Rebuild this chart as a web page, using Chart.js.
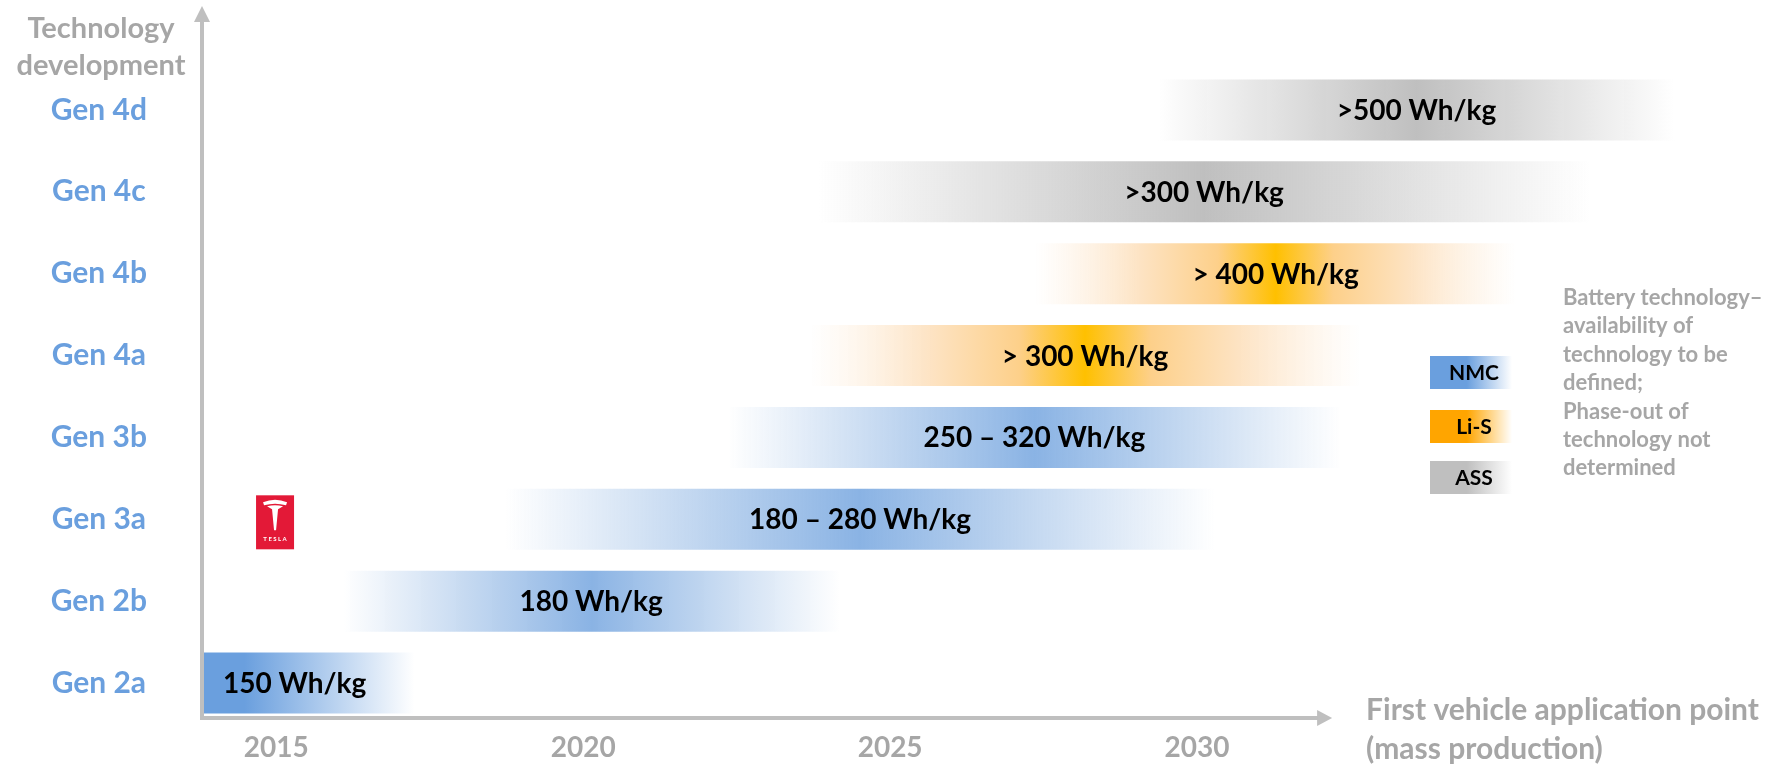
<!DOCTYPE html>
<html>
<head>
<meta charset="utf-8">
<script src="https://cdn.jsdelivr.net/npm/chart.js@4.4.1/dist/chart.umd.min.js"></script>
<style>
  html, body { margin: 0; padding: 0; background: #fff; }
  #wrap { width: 1779px; height: 764px; }
</style>
</head>
<body>
<div id="wrap"><canvas id="roadmap"></canvas></div>
<script>
// generations, top to bottom
const gens = ['Gen 4d', 'Gen 4c', 'Gen 4b', 'Gen 4a', 'Gen 3b', 'Gen 3a', 'Gen 2b', 'Gen 2a'];
// first vehicle application window (years)
const starts = [2029.35, 2023.83, 2027.36, 2023.70, 2022.36, 2018.73, 2016.09, 2013.79];
const ends   = [2037.8, 2036.4, 2035.2, 2032.65, 2032.34, 2030.29, 2024.17, 2017.25];
const densities = ['>500 Wh/kg', '>300 Wh/kg', '> 400 Wh/kg', '> 300 Wh/kg', '250 – 320 Wh/kg', '180 – 280 Wh/kg', '180 Wh/kg', '150 Wh/kg'];
const chems = ['ASS', 'ASS', 'Li-S', 'Li-S', 'NMC', 'NMC', 'NMC', 'NMC'];
const yearTicks = [2015, 2020, 2025, 2030];
const xMin = 2013.79, xMax = 2039.48, axisEnd = 2032.2;
const legendItems = ['NMC', 'Li-S', 'ASS'];
const noteLines = ['Battery technology–', 'availability of', 'technology to be', 'defined;', 'Phase-out of', 'technology not', 'determined'];

const GREY = '#a6a6a6';
const AXIS = '#bfbfbf';
const FONT = 'Lato, "Open Sans", sans-serif';

function barFill(ctx, chem, x0, x1, solidLeft) {
  const g = ctx.createLinearGradient(x0, 0, x1, 0);
  if (solidLeft) {
    g.addColorStop(0, '#6a9fde');
    g.addColorStop(0.2, '#6a9fde');
    g.addColorStop(1, 'rgba(255,255,255,1)');
    return g;
  }
  if (chem === 'NMC') {
    g.addColorStop(0, 'rgba(141,180,226,0)');
    g.addColorStop(0.5, '#8ab3e4');
    g.addColorStop(1, 'rgba(141,180,226,0)');
  } else if (chem === 'Li-S') {
    g.addColorStop(0, 'rgba(253,235,215,0)');
    g.addColorStop(0.22, '#fde3c3');
    g.addColorStop(0.38, '#fdd08a');
    g.addColorStop(0.5, '#ffc000');
    g.addColorStop(0.62, '#fdd08a');
    g.addColorStop(0.78, '#fde3c3');
    g.addColorStop(1, 'rgba(253,235,215,0)');
  } else {
    g.addColorStop(0, 'rgba(191,191,191,0)');
    g.addColorStop(0.5, '#bfbfbf');
    g.addColorStop(1, 'rgba(191,191,191,0)');
  }
  return g;
}

// axes with arrows, titles, bar labels, tesla logo, legend, note
const decor = {
  id: 'decor',
  afterDatasetsDraw(chart) {
    const { ctx, chartArea, scales: { x, y } } = chart;
    ctx.save();

    // bar labels
    ctx.font = 'bold 28px ' + FONT;
    ctx.fillStyle = '#000';
    ctx.textBaseline = 'middle';
    gens.forEach((g, i) => {
      const cy = y.getPixelForValue(i) + 1;
      const x0 = x.getPixelForValue(starts[i]);
      const x1 = x.getPixelForValue(ends[i]);
      if (i === gens.length - 1) {
        ctx.textAlign = 'left';
        ctx.fillText(densities[i], x0 + 21, cy);
      } else {
        ctx.textAlign = 'center';
        ctx.fillText(densities[i], (x0 + x1) / 2, cy);
      }
    });

    // axes
    const ax = chartArea.left;
    const ay = chartArea.bottom - 6;
    const tipX = x.getPixelForValue(axisEnd);
    ctx.strokeStyle = AXIS;
    ctx.fillStyle = AXIS;
    ctx.lineWidth = 4;
    ctx.beginPath();
    ctx.moveTo(ax, ay + 2);
    ctx.lineTo(ax, 20);
    ctx.moveTo(ax - 2, ay);
    ctx.lineTo(tipX - 12, ay);
    ctx.stroke();
    ctx.beginPath();
    ctx.moveTo(ax, 6); ctx.lineTo(ax - 8, 22); ctx.lineTo(ax + 8, 22); ctx.closePath();
    ctx.moveTo(tipX, ay); ctx.lineTo(tipX - 15, ay - 8); ctx.lineTo(tipX - 15, ay + 8); ctx.closePath();
    ctx.fill();

    // axis titles
    ctx.fillStyle = GREY;
    ctx.font = 'bold 29px ' + FONT;
    ctx.textAlign = 'center';
    ctx.fillText('Technology', 101, 29);
    ctx.fillText('development', 101, 66);
    ctx.font = 'bold 30px ' + FONT;
    ctx.textAlign = 'left';
    ctx.fillText('First vehicle application point', tipX + 34, ay - 8);
    ctx.fillText('(mass production)', tipX + 34, ay + 31);

    // tesla logo next to Gen 3a
    const tx = x.getPixelForValue(2014.98), ty = y.getPixelForValue(5) + 3;
    ctx.fillStyle = '#e31937';
    ctx.fillRect(tx - 19, ty - 27, 38, 54);
    ctx.fillStyle = '#fff';
    ctx.beginPath();
    ctx.moveTo(tx - 12, ty - 20);
    ctx.quadraticCurveTo(tx, ty - 25, tx + 12, ty - 20);
    ctx.lineTo(tx + 11, ty - 17);
    ctx.quadraticCurveTo(tx, ty - 20, tx - 11, ty - 17);
    ctx.closePath();
    ctx.fill();
    ctx.beginPath();
    ctx.moveTo(tx - 8, ty - 16);
    ctx.quadraticCurveTo(tx, ty - 18, tx + 8, ty - 16);
    ctx.lineTo(tx + 3, ty - 13);
    ctx.lineTo(tx + 1, ty + 8);
    ctx.lineTo(tx - 1, ty + 8);
    ctx.lineTo(tx - 3, ty - 13);
    ctx.closePath();
    ctx.fill();
    ctx.font = 'bold 6px ' + FONT;
    ctx.textAlign = 'center';
    ctx.fillText('T E S L A', tx, ty + 17);

    // legend
    const lx = chartArea.right - 349, lw = 82, lh = 33;
    const tops = [356, 410, 461];
    const legendColors = { 'NMC': '#6a9fde', 'Li-S': '#ffa500', 'ASS': '#bfbfbf' };
    legendItems.forEach((name, k) => {
      const g = ctx.createLinearGradient(lx, 0, lx + lw, 0);
      g.addColorStop(0, legendColors[name]);
      g.addColorStop(0.45, legendColors[name]);
      g.addColorStop(1, 'rgba(255,255,255,1)');
      ctx.fillStyle = g;
      ctx.fillRect(lx, tops[k], lw, lh);
      ctx.fillStyle = '#000';
      ctx.font = 'bold 21px ' + FONT;
      ctx.textAlign = 'center';
      ctx.fillText(name, lx + 44, tops[k] + lh / 2 + 1);
    });

    // note
    ctx.fillStyle = GREY;
    ctx.font = 'bold 22px ' + FONT;
    ctx.textAlign = 'left';
    noteLines.forEach((t, k) => ctx.fillText(t, lx + 133, 298 + k * 28.4));

    ctx.restore();
  }
};

new Chart(document.getElementById('roadmap'), {
  type: 'bar',
  data: {
    labels: gens,
    datasets: [{
      data: gens.map((g, i) => [starts[i], ends[i]]),
      backgroundColor: c => {
        const { chart, dataIndex } = c;
        if (!chart.chartArea) return '#8db4e2';
        const x0 = chart.scales.x.getPixelForValue(starts[dataIndex]);
        const x1 = chart.scales.x.getPixelForValue(ends[dataIndex]);
        return barFill(chart.ctx, chems[dataIndex], x0, x1, dataIndex === gens.length - 1);
      },
      borderWidth: 0,
      borderSkipped: false,
      barPercentage: 0.745,
      categoryPercentage: 1,
    }]
  },
  options: {
    indexAxis: 'y',
    responsive: true,
    maintainAspectRatio: false,
    animation: false,
    layout: { padding: { top: 69, left: 0, right: 0, bottom: 0 } },
    plugins: { legend: { display: false }, tooltip: { enabled: false } },
    scales: {
      x: {
        type: 'linear',
        min: xMin,
        max: xMax,
        afterBuildTicks: s => { s.ticks = yearTicks.map(v => ({ value: v })); },
        afterFit: s => { s.height = 40; s.paddingLeft = 0; s.paddingRight = 0; },
        grid: { display: false, drawTicks: false },
        border: { display: false },
        ticks: { color: GREY, font: { family: FONT, size: 28, weight: 'bold' }, padding: 7, maxRotation: 0, callback: v => String(v) }
      },
      y: {
        type: 'category',
        afterFit: s => { s.width = 202; s.paddingTop = 0; s.paddingBottom = 0; },
        grid: { display: false, drawTicks: false },
        border: { display: false },
        ticks: { color: '#6a9fde', font: { family: FONT, size: 30, weight: 'bold' }, crossAlign: 'center', padding: 55 }
      }
    }
  },
  plugins: [decor]
});
</script>
</body>
</html>
